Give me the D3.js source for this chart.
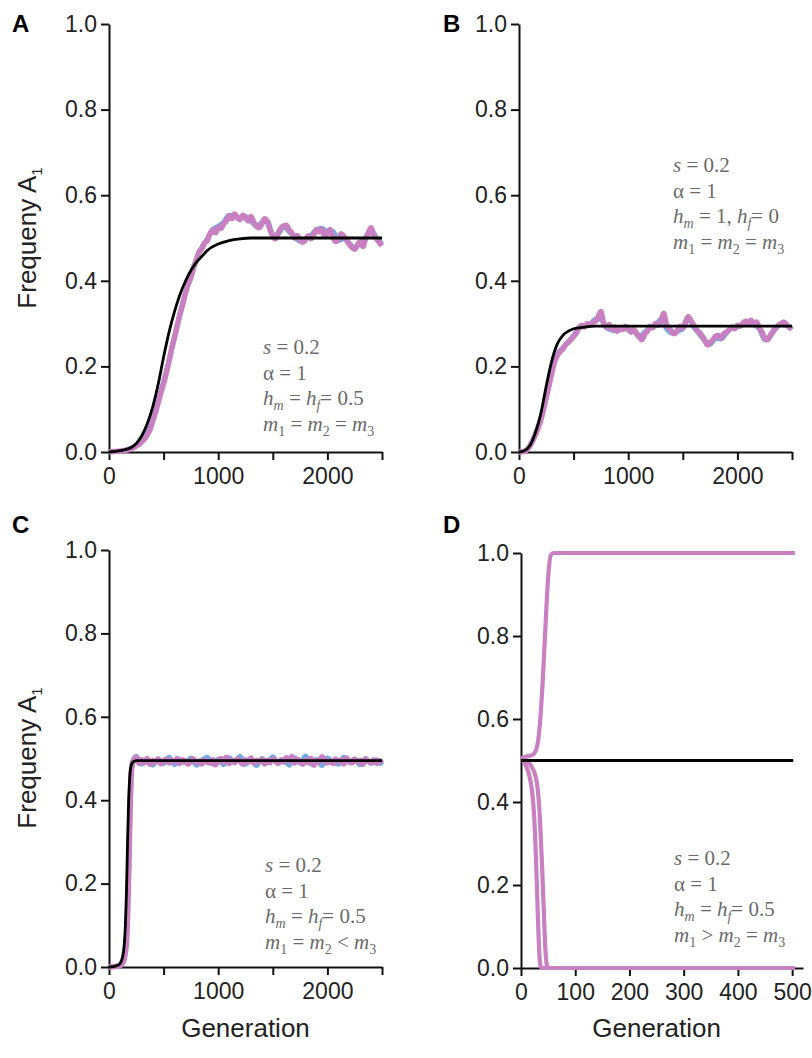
<!DOCTYPE html>
<html>
<head>
<meta charset="utf-8">
<script src="https://cdn.jsdelivr.net/npm/d3@7"></script>
<style>
  body { margin: 0; background: #fff; }
  svg { display: block; }
  text { white-space: pre; }
</style>
</head>
<body>
<svg id="fig" width="812" height="1058"></svg>
<script>
// ---- data ----
var yTicks = [0, 0.2, 0.4, 0.6, 0.8, 1.0];
var genTicksLong = [0, 500, 1000, 1500, 2000, 2500];
var genLabelsLong = [0, 1000, 2000];
var genTicksShort = [0, 100, 200, 300, 400, 500];

// panel A
var aBlackGen = [0, 100, 200, 250, 300, 350, 400, 450, 500, 550, 600, 650, 700, 750, 800, 850, 900, 1000, 1100, 1200, 1300, 1400, 2000, 2500];
var aBlack = [0, 0.003, 0.01, 0.02, 0.038, 0.066, 0.105, 0.158, 0.222, 0.28, 0.328, 0.368, 0.399, 0.424, 0.443, 0.457, 0.471, 0.486, 0.494, 0.498, 0.5, 0.5, 0.5, 0.5];
var aPink = [0, 0.001, 0.001, 0.002, 0.002, 0.003, 0.004, 0.005, 0.008, 0.010,
  0.014, 0.018, 0.024, 0.030, 0.040, 0.052, 0.072, 0.092, 0.115, 0.138,
  0.160, 0.185, 0.212, 0.243, 0.268, 0.295, 0.322, 0.345, 0.370, 0.392,
  0.408, 0.432, 0.448, 0.468, 0.475, 0.488, 0.494, 0.510, 0.518, 0.512,
  0.525, 0.522, 0.533, 0.540, 0.552, 0.545, 0.556, 0.548, 0.543, 0.553,
  0.548, 0.540, 0.550, 0.537, 0.528, 0.524, 0.533, 0.545, 0.538, 0.520,
  0.504, 0.498, 0.512, 0.523, 0.528, 0.530, 0.518, 0.512, 0.500, 0.506,
  0.495, 0.490, 0.496, 0.505, 0.498, 0.508, 0.520, 0.514, 0.520, 0.505,
  0.511, 0.520, 0.502, 0.492, 0.496, 0.510, 0.504, 0.495, 0.486, 0.478,
  0.474, 0.484, 0.491, 0.480, 0.500, 0.512, 0.524, 0.505, 0.498, 0.490,
  0.482];
var aBlue = [0, 0.001, 0.002, 0.004, 0.009, 0.015, 0.026, 0.05, 0.075, 0.118,
  0.165, 0.214, 0.27, 0.322, 0.372, 0.41, 0.45, 0.478, 0.498, 0.52,
  0.527, 0.537, 0.553, 0.552, 0.546, 0.55, 0.54, 0.527, 0.536, 0.54,
  0.506, 0.51, 0.526, 0.515, 0.502, 0.493, 0.499, 0.506, 0.52, 0.523,
  0.514, 0.516, 0.494, 0.498, 0.488, 0.476, 0.49, 0.498, 0.52, 0.5,
  0.487];

// panel B
var bBlackGen = [0, 50, 100, 150, 200, 250, 300, 350, 400, 450, 500, 600, 700, 800, 2500];
var bBlack = [0, 0.003, 0.015, 0.045, 0.09, 0.155, 0.213, 0.252, 0.272, 0.282, 0.288, 0.292, 0.294, 0.294, 0.294];
var bPink = [0, 0, 0.002, 0.006, 0.014, 0.026, 0.040, 0.056, 0.075, 0.100,
  0.128, 0.155, 0.185, 0.210, 0.225, 0.234, 0.240, 0.250, 0.256, 0.262,
  0.270, 0.278, 0.290, 0.296, 0.292, 0.300, 0.296, 0.302, 0.306, 0.316,
  0.328, 0.300, 0.292, 0.298, 0.286, 0.292, 0.282, 0.290, 0.286, 0.294,
  0.288, 0.280, 0.286, 0.278, 0.270, 0.262, 0.275, 0.282, 0.294, 0.290,
  0.300, 0.296, 0.306, 0.324, 0.298, 0.290, 0.280, 0.276, 0.284, 0.294,
  0.290, 0.304, 0.316, 0.306, 0.296, 0.286, 0.280, 0.272, 0.262, 0.250,
  0.256, 0.262, 0.270, 0.272, 0.266, 0.276, 0.280, 0.286, 0.292, 0.288,
  0.296, 0.294, 0.300, 0.306, 0.302, 0.308, 0.298, 0.304, 0.290, 0.280,
  0.266, 0.262, 0.272, 0.282, 0.290, 0.296, 0.300, 0.304, 0.298, 0.292,
  0.288];
var bBlue = [0, 0.002, 0.015, 0.042, 0.078, 0.13, 0.188, 0.228, 0.243, 0.258,
  0.272, 0.29, 0.294, 0.298, 0.31, 0.31, 0.29, 0.285, 0.283, 0.29,
  0.286, 0.284, 0.268, 0.28, 0.29, 0.296, 0.31, 0.288, 0.278, 0.282,
  0.288, 0.312, 0.292, 0.276, 0.26, 0.252, 0.266, 0.264, 0.278, 0.29,
  0.292, 0.298, 0.303, 0.298, 0.288, 0.262, 0.27, 0.288, 0.298, 0.296,
  0.286];

// panel C
var cBlackGen = [0, 40, 80, 100, 120, 140, 150, 160, 170, 180, 190, 200, 220, 250, 2500];
var cBlack = [0, 0.001, 0.004, 0.008, 0.02, 0.055, 0.1, 0.18, 0.3, 0.4, 0.455, 0.48, 0.492, 0.495, 0.495];
var cRiseGen = [0, 50, 100, 120, 140, 150, 160, 170, 180, 190, 200, 210, 225];
var cPinkRise = [0, 0.001, 0.003, 0.008, 0.02, 0.035, 0.06, 0.12, 0.22, 0.34, 0.44, 0.48, 0.496];
var cBlueRise = [0, 0.001, 0.003, 0.009, 0.022, 0.04, 0.065, 0.13, 0.23, 0.35, 0.445, 0.485, 0.498];
var cPinkFlat = [0.502, 0.488, 0.497, 0.490, 0.500, 0.486, 0.495, 0.491, 0.499, 0.487,
  0.494, 0.498, 0.489, 0.496, 0.492, 0.500, 0.488, 0.497, 0.493, 0.486,
  0.495, 0.499, 0.490, 0.494, 0.487, 0.496, 0.491, 0.489, 0.497, 0.485,
  0.494, 0.500, 0.491, 0.503, 0.488, 0.496, 0.490, 0.499, 0.493, 0.486,
  0.497, 0.491, 0.501, 0.489, 0.495, 0.492, 0.498, 0.487, 0.496, 0.490,
  0.499, 0.493, 0.488, 0.497, 0.491, 0.502, 0.494, 0.505, 0.489, 0.498,
  0.492, 0.486, 0.496, 0.490, 0.500, 0.484, 0.495, 0.491, 0.504, 0.497,
  0.489, 0.494, 0.488, 0.499, 0.492, 0.497, 0.487, 0.501, 0.493, 0.489,
  0.498, 0.491, 0.496, 0.486, 0.499, 0.493, 0.490, 0.497, 0.488, 0.495,
  0.489];
var cBlueFlat = [0.505, 0.486, 0.498, 0.484, 0.499, 0.488, 0.503, 0.485, 0.497, 0.49,
  0.501, 0.484, 0.496, 0.503, 0.487, 0.499, 0.485, 0.502, 0.491, 0.505,
  0.486, 0.498, 0.483, 0.5, 0.49, 0.504, 0.488, 0.497, 0.484, 0.502,
  0.489, 0.506, 0.487, 0.498, 0.483, 0.501, 0.492, 0.486, 0.503, 0.49,
  0.499, 0.485, 0.5, 0.488, 0.497, 0.484];

// panel D
var dBlackGen = [0, 502];
var dBlack = [0.5, 0.5];
var dUpGen = [0, 5, 10, 15, 20, 25, 30, 35, 40, 45, 50, 55, 60, 100, 300, 505];
var dUp = [0.505, 0.508, 0.51, 0.511, 0.513, 0.518, 0.535, 0.59, 0.69, 0.82, 0.94, 0.995, 1.0, 1.0, 1.0, 1.0];
var dDown1Gen = [0, 5, 10, 15, 20, 23, 26, 28, 30, 32, 34, 36, 38, 100, 505];
var dDown1 = [0.505, 0.498, 0.485, 0.465, 0.43, 0.39, 0.32, 0.25, 0.17, 0.09, 0.03, 0.005, 0, 0, 0];
var dDown2Gen = [0, 5, 10, 15, 20, 25, 30, 33, 36, 39, 42, 44, 46, 48, 50, 100, 505];
var dDown2 = [0.505, 0.504, 0.5, 0.494, 0.484, 0.47, 0.44, 0.40, 0.33, 0.24, 0.14, 0.07, 0.025, 0.005, 0, 0, 0];

// annotation text
var annoA = [[["s", "i"], [" = 0.2"]], [["α = 1"]], [["h", "i"], ["m", "si"], [" = "], ["h", "i"], ["f", "si"], ["= 0.5"]], [["m", "i"], ["1", "s"], [" = "], ["m", "i"], ["2", "s"], [" = "], ["m", "i"], ["3", "s"]]];
var annoB = [[["s", "i"], [" = 0.2"]], [["α = 1"]], [["h", "i"], ["m", "si"], [" = 1, "], ["h", "i"], ["f", "si"], ["= 0"]], [["m", "i"], ["1", "s"], [" = "], ["m", "i"], ["2", "s"], [" = "], ["m", "i"], ["3", "s"]]];
var annoC = [[["s", "i"], [" = 0.2"]], [["α = 1"]], [["h", "i"], ["m", "si"], [" = "], ["h", "i"], ["f", "si"], ["= 0.5"]], [["m", "i"], ["1", "s"], [" = "], ["m", "i"], ["2", "s"], [" < "], ["m", "i"], ["3", "s"]]];
var annoD = [[["s", "i"], [" = 0.2"]], [["α = 1"]], [["h", "i"], ["m", "si"], [" = "], ["h", "i"], ["f", "si"], ["= 0.5"]], [["m", "i"], ["1", "s"], [" > "], ["m", "i"], ["2", "s"], [" = "], ["m", "i"], ["3", "s"]]];

var PINK = "#c980c0", BLUE = "#74a9e2", SANS = "Liberation Sans, Arial, sans-serif";
var svg = d3.select("#fig");

var panels = [
  {letter: "A", lx: 12, ly: 32, xr: [109, 382], yr: [452, 24], xd: [0, 2500], ticks: genTicksLong, labels: genLabelsLong,
   ylab: 238, xlab: false, anno: annoA, ax: 263, ay: 354, pw: 5.5,
   blue: [[d3.range(0, 2501, 50), aBlue]], pink: [[d3.range(0, 2501, 25), aPink]], black: [aBlackGen, aBlack]},
  {letter: "B", lx: 443, ly: 32, xr: [519, 792], yr: [452, 24], xd: [0, 2500], ticks: genTicksLong, labels: genLabelsLong,
   ylab: null, xlab: false, anno: annoB, ax: 673, ay: 172, pw: 5.5,
   blue: [[d3.range(0, 2501, 50), bBlue]], pink: [[d3.range(0, 2501, 25), bPink]], black: [bBlackGen, bBlack]},
  {letter: "C", lx: 12, ly: 533, xr: [109, 382], yr: [967, 550], xd: [0, 2500], ticks: genTicksLong, labels: genLabelsLong,
   ylab: 758, xlab: true, anno: annoC, ax: 265, ay: 872, pw: 5.5,
   blue: [[cRiseGen.concat(d3.range(250, 2501, 50)), cBlueRise.concat(cBlueFlat)]],
   pink: [[cRiseGen.concat(d3.range(250, 2501, 25)), cPinkRise.concat(cPinkFlat)]], black: [cBlackGen, cBlack]},
  {letter: "D", lx: 443, ly: 533, xr: [521, 803], yr: [968, 553], xd: [0, 520], ticks: genTicksShort, labels: genTicksShort,
   ylab: null, xlab: true, anno: annoD, ax: 674, ay: 865, pw: 4.2,
   blue: [], pink: [[dUpGen, dUp], [dDown1Gen, dDown1], [dDown2Gen, dDown2]], black: [dBlackGen, dBlack]}
];

panels.forEach(function (p) {
  var x = d3.scaleLinear().domain(p.xd).range(p.xr);
  var y = d3.scaleLinear().domain([0, 1]).range(p.yr);
  var g = svg.append("g");

  // axes
  var xa = g.append("g")
    .attr("transform", "translate(0," + p.yr[0] + ")")
    .call(d3.axisBottom(x).tickValues(p.ticks).tickSizeInner(8).tickSizeOuter(0).tickPadding(8)
      .tickFormat(function (d) { return p.labels.indexOf(d) >= 0 ? d : ""; }));
  var ya = g.append("g")
    .attr("transform", "translate(" + p.xr[0] + ",0)")
    .call(d3.axisLeft(y).tickValues(yTicks).tickSizeInner(8).tickSizeOuter(0).tickPadding(4)
      .tickFormat(d3.format(".1f")));
  [xa, ya].forEach(function (a) {
    a.select(".domain").attr("stroke", "#111").attr("stroke-width", 2);
    a.selectAll(".tick line").attr("stroke", "#111").attr("stroke-width", 2);
    a.selectAll(".tick text").attr("fill", "#222").style("font-family", SANS).style("font-size", "23px");
  });

  var line = d3.line().x(function (d) { return x(d[0]); }).y(function (d) { return y(d[1]); })
    .curve(d3.curveMonotoneX);

  p.blue.forEach(function (s) {
    g.append("path").datum(d3.zip(s[0], s[1])).attr("d", line)
      .attr("fill", "none").attr("stroke", BLUE).attr("stroke-width", p.pw - 0.5).attr("stroke-linejoin", "round");
  });
  p.pink.forEach(function (s) {
    g.append("path").datum(d3.zip(s[0], s[1])).attr("d", line)
      .attr("fill", "none").attr("stroke", PINK).attr("stroke-width", p.pw).attr("stroke-linejoin", "round");
  });
  g.append("path").datum(d3.zip(p.black[0], p.black[1])).attr("d", line)
    .attr("fill", "none").attr("stroke", "#000").attr("stroke-width", 2.8);

  // panel letter
  g.append("text").attr("x", p.lx).attr("y", p.ly).text(p.letter)
    .style("font-family", SANS).style("font-weight", "bold").style("font-size", "24px").attr("fill", "#000");

  // y label
  if (p.ylab !== null) {
    var yl = g.append("text")
      .attr("transform", "translate(36," + p.ylab + ") rotate(-90)")
      .attr("text-anchor", "middle")
      .style("font-family", SANS).style("font-size", "26px").attr("fill", "#222");
    yl.append("tspan").text("Frequeny A");
    yl.append("tspan").attr("dy", 6).style("font-size", "15px").text("1");
  }
  // x label
  if (p.xlab) {
    g.append("text").attr("x", (p.xr[0] + x(p.ticks[p.ticks.length - 1])) / 2).attr("y", 1037)
      .attr("text-anchor", "middle")
      .style("font-family", SANS).style("font-size", "26px").attr("fill", "#222")
      .text("Generation");
  }

  // parameter annotation
  p.anno.forEach(function (parts, i) {
    var t = g.append("text").attr("x", p.ax).attr("y", p.ay + i * 25.5)
      .style("font-family", "Liberation Serif, 'Times New Roman', serif").style("font-size", "21px")
      .attr("fill", "#6a6a6a");
    var low = false;
    parts.forEach(function (pt) {
      var st = pt[1] || "";
      var sub = st.indexOf("s") >= 0;
      var ts = t.append("tspan").text(pt[0]);
      if (st.indexOf("i") >= 0) ts.style("font-style", "italic");
      if (sub && !low) { ts.attr("dy", 5).style("font-size", "14px"); low = true; }
      else if (sub) { ts.style("font-size", "14px"); }
      else if (low) { ts.attr("dy", -5); low = false; }
    });
  });
});
</script>
</body>
</html>
